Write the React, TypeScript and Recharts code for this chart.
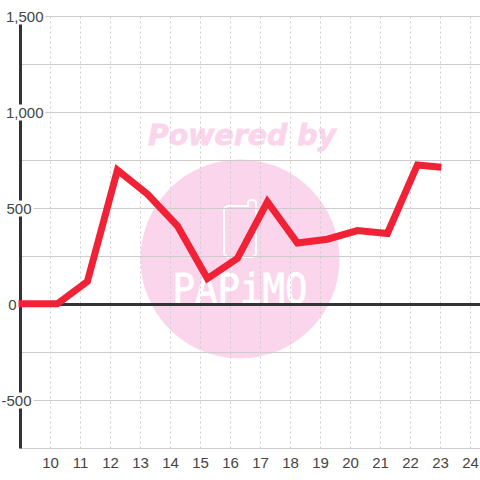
import React from "react";
import { ComposedChart, Line, XAxis, YAxis, CartesianGrid, ReferenceLine } from "recharts";

const xPositions = [8.9, 10.23, 11.23, 12.23, 13.23, 14.23, 15.23, 16.23, 17.23, 18.23, 19.23, 20.23, 21.23, 22.23, 23.03];
const values = [4, 4, 120, 700, 575, 410, 135, 240, 535, 320, 340, 385, 370, 727, 715];
const xTicks = [10, 11, 12, 13, 14, 15, 16, 17, 18, 19, 20, 21, 22, 23, 24];
const yTicks = [-750, -500, -250, 0, 250, 500, 750, 1000, 1250, 1500];
const labelledY = [-500, 0, 500, 1000, 1500];
const data = xPositions.map((x, i) => ({ x, v: values[i] }));

const FONT = "'Liberation Sans', Arial, sans-serif";
const LABEL_RIGHT: Record<number, number> = { [-500]: 11, 0: -4, 500: 11, 1000: 23, 1500: 23 };
const LABEL_W: Record<number, number> = { [-500]: 31, 0: 12, 500: 28, 1000: 38, 1500: 38 };

const YTick = (props: any) => {
  const { x, y, payload } = props;
  const value = payload.value as number;
  if (!labelledY.includes(value)) return null;
  const right = x + LABEL_RIGHT[value];
  const w = LABEL_W[value];
  return (
    <g>
      <rect x={right - w} y={y - 8} width={w + 2} height={16} fill="#fff" />
      <text x={right} y={y + 5.5} textAnchor="end" fontFamily={FONT} fontSize={15} fill="#444">
        {value.toLocaleString("en-US")}
      </text>
    </g>
  );
};

const Watermark = () => (
  <svg width={480} height={480} style={{ position: "absolute", left: 0, top: 0 }}>
    <text x={148} y={145} fontFamily="'DejaVu Sans'" fontWeight="bold" fontStyle="italic" fontSize={29} fill="#fbd5ec" stroke="#fbd5ec" strokeWidth={0.8} textLength={188} lengthAdjust="spacingAndGlyphs">
      Powered by
    </text>
    <circle cx={240} cy={259} r={99.5} fill="#fbd5ec" />
    <path d="M229 206 H248 V203 Q248 200 252 200 Q256 200 256 203 V252 Q256 257 251 257 H229 Q224 257 224 252 V211 Q224 206 229 206 Z" fill="none" stroke="#fff" strokeWidth={2} />
    <text x={240} y={303} textAnchor="middle" fontFamily="'DejaVu Sans Mono'" fontSize={41} fill="#fff" stroke="#fff" strokeWidth={0.8} textLength={135} lengthAdjust="spacingAndGlyphs">
      PAPiMO
    </text>
  </svg>
);

export default function App() {
  return (
    <div style={{ position: "absolute", left: 0, top: 0, width: 480, height: 480, background: "#fff" }}>
      <style>{".recharts-surface g, .recharts-surface path{clip-path:none !important}"}</style>
      <Watermark />
      <div style={{ position: "absolute", left: 0, top: 0 }}>
        <ComposedChart width={480} height={480} data={data} margin={{ top: 16.5, right: 0, bottom: 0, left: 0.5 }}>
          <CartesianGrid stroke="#ccc" horizontalValues={yTicks} verticalValues={[]} vertical={false} />
          <CartesianGrid stroke="#ccc" strokeDasharray="2 3" verticalValues={xTicks} horizontal={false} />
          <XAxis
            dataKey="x"
            type="number"
            domain={[9, 24.3167]}
            ticks={xTicks}
            allowDataOverflow
            axisLine={{ stroke: "#ccc" }}
            tickLine={false}
            tick={{ fontFamily: FONT, fontSize: 15, fill: "#444" }}
            tickMargin={3}
            interval={0}
            height={31.5}
          />
          <YAxis
            type="number"
            domain={[-750, 1500]}
            ticks={yTicks}
            width={20}
            axisLine={{ stroke: "#333", strokeWidth: 3 }}
            tickLine={false}
            tickSize={0}
            tickMargin={0}
            interval={0}
            tick={<YTick />}
          />
          <ReferenceLine y={0} stroke="#333" strokeWidth={3} />
          <Line
            dataKey="v"
            type="linear"
            stroke="#f12136"
            strokeWidth={7}
            strokeLinejoin="miter"
            dot={false}
            isAnimationActive={false}
            {...({ zIndex: 900 } as any)}
          />
        </ComposedChart>
      </div>
    </div>
  );
}
